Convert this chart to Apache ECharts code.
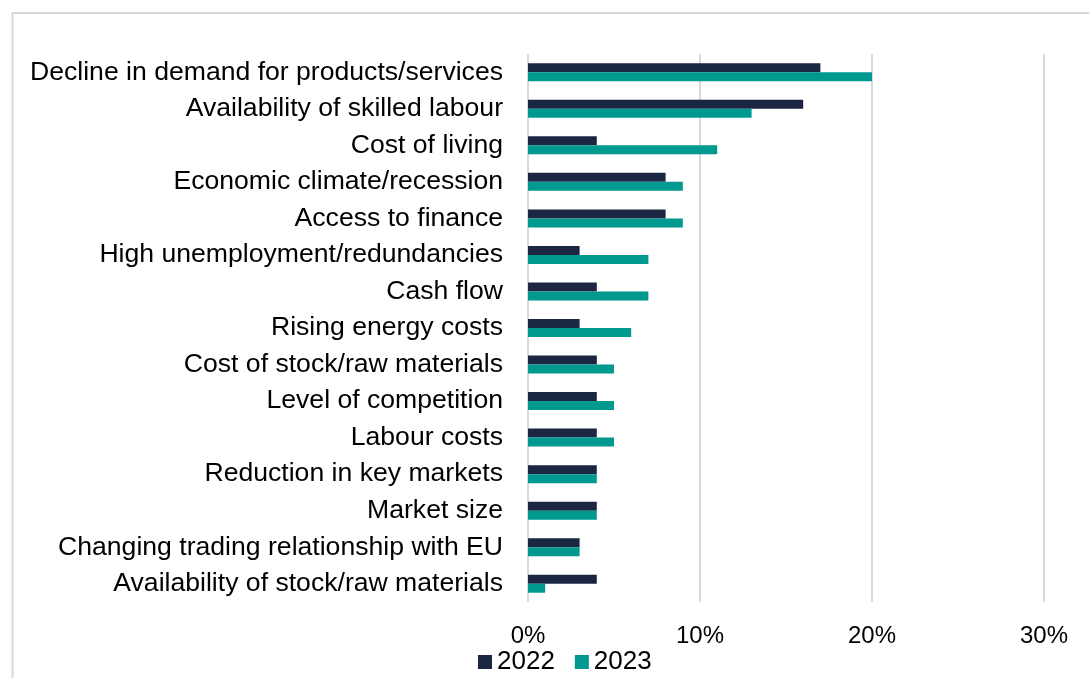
<!DOCTYPE html>
<html>
<head>
<meta charset="utf-8">
<script src="https://cdn.jsdelivr.net/npm/echarts@6/dist/echarts.min.js"></script>
<style>
  html, body { margin: 0; padding: 0; background: #ffffff; }
  #chart { width: 1089px; height: 678px; }
</style>
</head>
<body>
<div id="chart"></div>
<script>
// Barriers reported by businesses, share of respondents (%)
const categories = [
  'Decline in demand for products/services',
  'Availability of skilled labour',
  'Cost of living',
  'Economic climate/recession',
  'Access to finance',
  'High unemployment/redundancies',
  'Cash flow',
  'Rising energy costs',
  'Cost of stock/raw materials',
  'Level of competition',
  'Labour costs',
  'Reduction in key markets',
  'Market size',
  'Changing trading relationship with EU',
  'Availability of stock/raw materials'
];
const values2022 = [17, 16, 4, 8, 8, 3, 4, 3, 4, 4, 4, 4, 4, 3, 4];
const values2023 = [20, 13, 11, 9, 9, 7, 7, 6, 5, 5, 5, 4, 4, 3, 1];
const seriesNames = ['2022', '2023'];
const xTicks = [0, 10, 20, 30];

const chart = echarts.init(document.getElementById('chart'));
const font = 'Liberation Sans, Arial, sans-serif';

chart.setOption({
  animation: false,
  textStyle: { fontFamily: font },
  graphic: [{
    type: 'rect',
    shape: { x: 12.5, y: 13, width: 1200, height: 1000 },
    style: { fill: 'none', stroke: '#d9d9d9', lineWidth: 2 },
    silent: true
  }],
  grid: { left: 528, right: 45, top: 54, height: 548, containLabel: false },
  legend: {
    data: seriesNames,
    top: 649,
    left: 478,
    padding: 0,
    itemWidth: 14,
    itemHeight: 14,
    itemGap: 20,
    icon: 'rect',
    textStyle: { fontSize: 26, color: '#000', fontFamily: font }
  },
  xAxis: {
    type: 'value',
    min: xTicks[0],
    max: xTicks[xTicks.length - 1],
    interval: 10,
    axisLine: { show: false },
    axisTick: { show: false },
    splitLine: { show: true, lineStyle: { color: '#d9d9d9', width: 2 } },
    axisLabel: { formatter: '{value}%', fontSize: 24, color: '#000', margin: 22, fontFamily: font }
  },
  yAxis: {
    type: 'category',
    data: categories,
    inverse: true,
    axisLine: { show: true, lineStyle: { color: '#d9d9d9', width: 1 } },
    axisTick: { show: false },
    axisLabel: { fontSize: 26.6, color: '#000', margin: 25, fontFamily: font, padding: [3, 0, 0, 0] }
  },
  series: [
    {
      name: seriesNames[0], type: 'bar', data: values2022,
      barWidth: 9, barGap: '0%',
      itemStyle: { color: '#1b2642' }
    },
    {
      name: seriesNames[1], type: 'bar', data: values2023,
      barWidth: 9, barGap: '0%',
      itemStyle: { color: '#00998f' }
    }
  ]
});
</script>
</body>
</html>
